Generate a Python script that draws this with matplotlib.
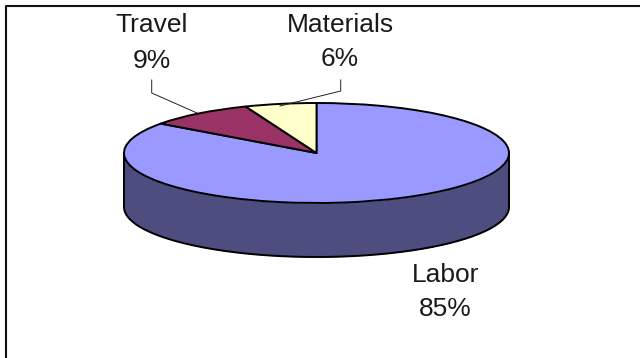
import numpy as np
import matplotlib
matplotlib.use('Agg')
import matplotlib.pyplot as plt

plt.rcParams['font.family'] = ['Liberation Sans', 'DejaVu Sans']

categories = ['Labor', 'Travel', 'Materials']
shares = [85, 9, 6]
top_colors = ['#9999ff', '#993366', '#ffffcc']
wall_color = '#4d4d80'

W, H = 640, 358
cx, cy = 316.5, 153
rx, ry = 192.5, 50
depth = 54

fig = plt.figure(figsize=(W / 100, H / 100), dpi=100)
ax = fig.add_axes([0, 0, 1, 1])

# one data unit is the pie radius, so the axes squash the circle into an ellipse
ax.pie(shares, colors=top_colors, startangle=90, counterclock=False, radius=1,
       wedgeprops={'edgecolor': 'black', 'linewidth': 1.4, 'zorder': 3})
ax.set_aspect('auto')
ax.set_xlim(-cx / rx, (W - cx) / rx)
ax.set_ylim((cy - H) / ry, cy / ry)
ax.axis('off')

# side wall below the front half
t = np.linspace(0, 1, 200)
xs = -np.cos(np.pi * t)
ys = -np.sin(np.pi * t)
wall_h = depth / ry
ax.fill_between(xs, ys, ys - wall_h, color=wall_color, lw=0, zorder=2)
ax.plot(xs, ys - wall_h, color='black', lw=1.4, zorder=4)
ax.plot([-1, -1], [0, -wall_h], color='black', lw=1.4, zorder=4)
ax.plot([1, 1], [0, -wall_h], color='black', lw=1.4, zorder=4)


def px(x, y):
    return (x - cx) / rx, (cy - y) / ry


# frame: only the left and top edges show, both run off the canvas
frame = [(6, 358), (6, 6), (640, 6)]
ax.plot(*zip(*[px(*p) for p in frame]), color='#111111', lw=1.5, zorder=1, clip_on=False)

# leader lines
for pts in ([(151.7, 80), (151.7, 93), (197, 113)], [(340.7, 80), (340.7, 91), (280, 106)]):
    ax.plot(*zip(*[px(*p) for p in pts]), color='#222222', lw=0.7, zorder=5)

label_pos = [(445.5, 275, 309), (152, 25, 61), (340, 25, 59)]
for name, share, (x, y1, y2) in zip(categories, shares, label_pos):
    ax.text(*px(x, y1), name, ha='center', va='center', fontsize=19, color='#1a1a1a')
    ax.text(*px(x, y2), f'{share}%', ha='center', va='center', fontsize=19, color='#1a1a1a')

fig.savefig('out.png', dpi=100, facecolor='white')
